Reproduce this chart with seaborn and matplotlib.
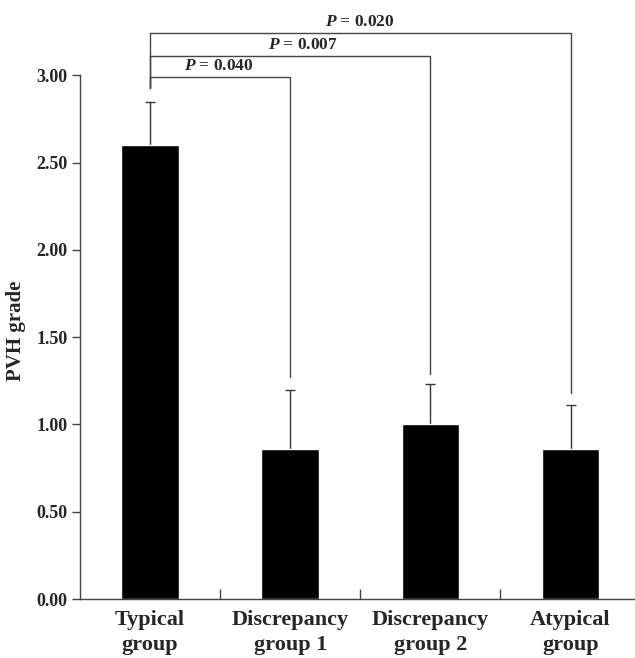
import numpy as np
import matplotlib
matplotlib.use("Agg")
import matplotlib.pyplot as plt
import seaborn as sns
import pandas as pd

groups = ["Typical\ngroup", "Discrepancy\ngroup 1", "Discrepancy\ngroup 2", "Atypical\ngroup"]
means = [2.60, 0.86, 1.00, 0.86]
errs = [0.25, 0.34, 0.23, 0.25]

# brackets: (left idx, right idx, height, left foot, right foot, label, label x)
brackets = [
    (0, 1, 2.99, 2.93, 1.27, "0.040", 0.49),
    (0, 2, 3.11, 2.93, 1.29, "0.007", 1.09),
    (0, 3, 3.24, 2.93, 1.18, "0.020", 1.50),
]

sns.set_style("white")
plt.rcParams["font.family"] = ["Liberation Serif", "DejaVu Serif"]
plt.rcParams["mathtext.fontset"] = "custom"
plt.rcParams["mathtext.it"] = "Liberation Serif:italic:bold"
plt.rcParams["mathtext.rm"] = "Liberation Serif:bold"

df = pd.DataFrame({"group": groups, "mean": means})

fig = plt.figure(figsize=(6.35, 6.58), dpi=100)
ax = fig.add_axes([80 / 635, 59 / 658, 555 / 635, 576 / 658])

sns.barplot(data=df, x="group", y="mean", color="black", saturation=1,
            width=0.41, ax=ax, errorbar=None, zorder=2)
eb = ax.errorbar(range(len(means)), means, yerr=[np.zeros(len(errs)), errs],
                 fmt="none", ecolor="#333333", elinewidth=1, capsize=3.5,
                 capthick=1, zorder=1)
# only keep upper caps
eb[1][0].set_visible(False)

ax.set_xlim(-0.5, 3.46)
ax.set_ylim(0, 3.3)
ax.set_yticks(np.arange(0, 3.01, 0.5))
ax.set_yticklabels(["%.2f" % v for v in np.arange(0, 3.01, 0.5)],
                   fontsize=13, fontweight="bold")
ax.set_xticks(range(4))
ax.set_xticklabels(groups, fontsize=16, fontweight="bold", linespacing=1.3)
ax.set_xlabel("")
ax.set_ylabel("PVH grade", fontsize=15, fontweight="bold")
ax.yaxis.set_label_coords(-0.098, 0.465)

for s in ["top", "right"]:
    ax.spines[s].set_visible(False)
for s in ["left", "bottom"]:
    ax.spines[s].set_color("#444444")
    ax.spines[s].set_linewidth(1)
ax.spines["left"].set_bounds(0, 3)

ax.tick_params(axis="y", direction="out", length=6, width=1, color="#444444",
               left=True, pad=3)
ax.tick_params(axis="x", length=0, pad=8)
# small inward ticks between categories
ax.set_xticks([0.5, 1.5, 2.5], minor=True)
ax.tick_params(axis="x", which="minor", direction="in", length=7, width=1,
               color="#444444", bottom=True)

for li, ri, h, lf, rf, lab, tx in brackets:
    ax.plot([li, li, ri, ri], [lf, h, h, rf], color="#444444", lw=1,
            clip_on=False)
    ax.text(tx, h + 0.02, r"$P$ = " + lab, ha="center", va="bottom",
            fontsize=12.5, fontweight="bold")

fig.savefig("out.png", dpi=100)
